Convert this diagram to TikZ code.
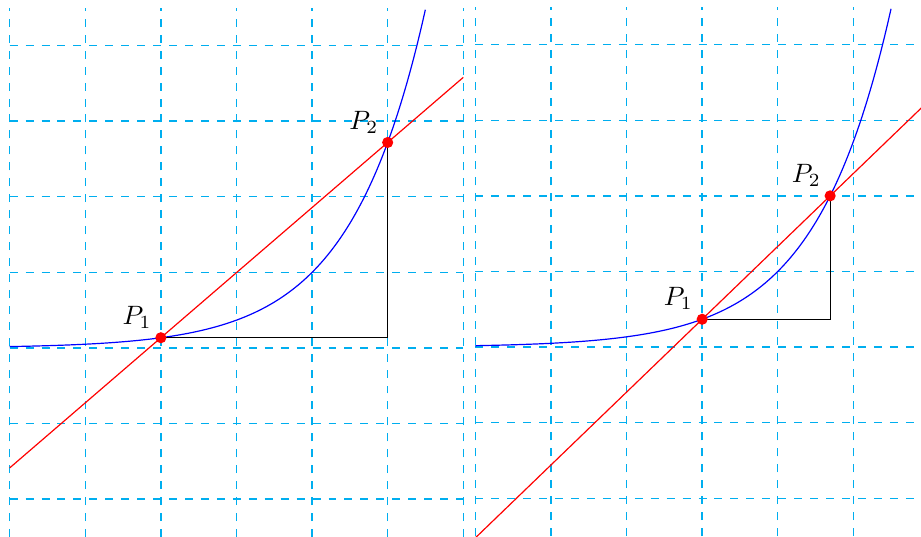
\documentclass[tikz,border=0pt]{standalone}
\usetikzlibrary{calc}
\definecolor{gridc}{RGB}{0,174,239}
\tikzset{
  gridline/.style={draw=gridc, dashed, line width=0.55pt},
  curve/.style={draw=blue, line width=0.45pt},
  secant/.style={draw=red, line width=0.45pt},
  legs/.style={draw=black, line width=0.45pt},
  dot/.style={circle, fill=red, inner sep=0pt, minimum size=4.2pt},
  lab/.style={above left}
}
\begin{document}
\begin{tikzpicture}
\useasboundingbox (-4.128,-2.5) rectangle (8.055,4.603);
\clip (-4.128,-2.5) rectangle (8.055,4.603);
% ---------- left panel ----------
\begin{scope}
  \draw[gridline] (-4,-2.5) grid (2,4.5);
  \draw[curve] plot[domain=-4:1.5, samples=120, smooth] (\x,{exp(\x)});
  \coordinate (a1) at (-2,{exp(-2)});
  \coordinate (b1) at (1,{exp(1)});
  \coordinate (s1) at ($(a1)!-0.666667!(b1)$);
  \coordinate (e1) at ($(a1)!1.333333!(b1)$);
  \draw[secant] (s1) -- (e1);
  \draw[legs] (a1) -| (b1);
  \node[dot] (P1) at (a1) {};
  \node[dot] (P2) at (b1) {};
  \node[lab] (L1) at (P1.center) {$P_1$};
  \node[lab] (L2) at (P2.center) {$P_2$};
\end{scope}
% ---------- right panel ----------
\begin{scope}[xshift=6.16cm, yshift=0.012cm]
  \draw[gridline] (-4,-2.5) grid (2,4.5);
  \draw[curve] plot[domain=-4:1.5, samples=120, smooth] (\x,{exp(\x)});
  \coordinate (a2) at (-1,{exp(-1)});
  \coordinate (b2) at ({ln(2)},2);
  \coordinate (s2) at ($(a2)!-1.77186!(b2)$);
  \coordinate (e2) at ($(a2)!1.77186!(b2)$);
  \draw[secant] (s2) -- (e2);
  \draw[legs] (a2) -| (b2);
  \node[dot] (Q1) at (a2) {};
  \node[dot] (Q2) at (b2) {};
  \node[lab] (M1) at (Q1.center) {$P_1$};
  \node[lab] (M2) at (Q2.center) {$P_2$};
\end{scope}
\end{tikzpicture}
\end{document}
